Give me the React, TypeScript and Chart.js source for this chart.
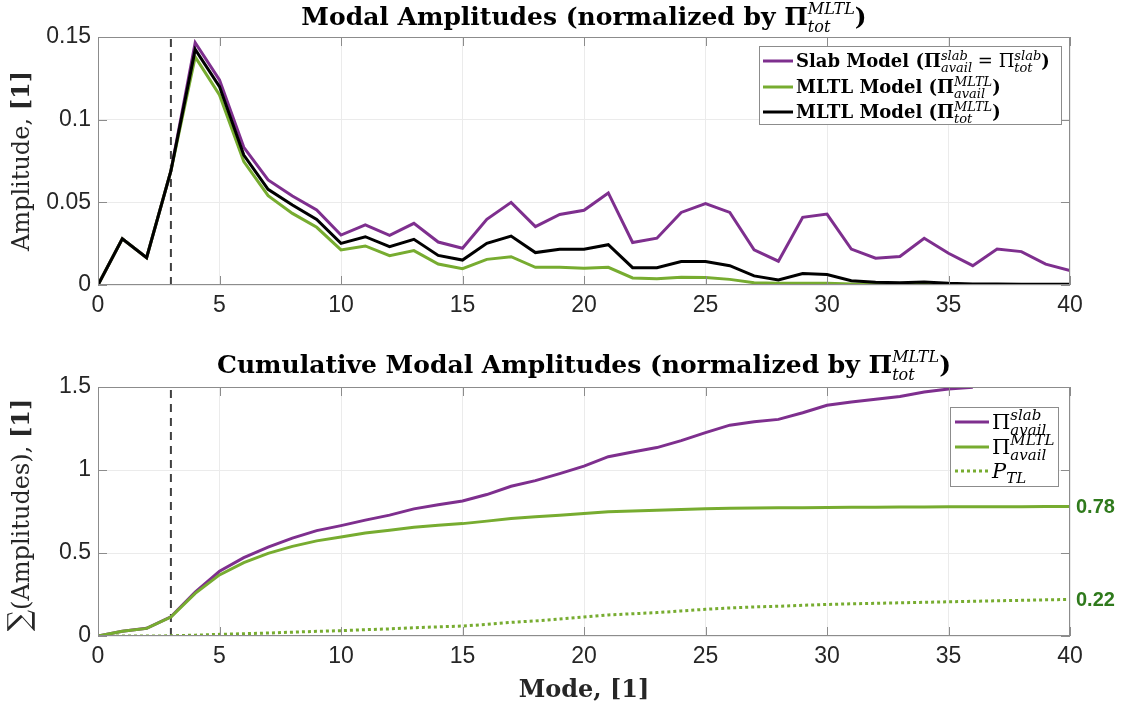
import React, { useEffect, useRef } from "react";
import { Chart, registerables } from "chart.js";

Chart.register(...registerables);

// ---- data -----------------------------------------------------------------
const modes = [
  0, 1, 2, 3, 4, 5, 6, 7, 8, 9, 10, 11, 12, 13, 14, 15, 16, 17, 18, 19, 20,
  21, 22, 23, 24, 25, 26, 27, 28, 29, 30, 31, 32, 33, 34, 35, 36, 37, 38, 39, 40,
];

// modal amplitudes, normalized by total MLTL power
const slabAmp = [
  0, 0.028, 0.0165, 0.069, 0.1466, 0.124, 0.0833, 0.0635, 0.0538, 0.0454,
  0.0302, 0.0363, 0.03, 0.0373, 0.026, 0.0222, 0.0397, 0.05, 0.0353, 0.0427,
  0.0452, 0.0557, 0.0257, 0.0283, 0.0439, 0.0492, 0.0439, 0.0213, 0.0144,
  0.0409, 0.0429, 0.0217, 0.0162, 0.0172, 0.0283, 0.0192, 0.0117, 0.0217,
  0.0202, 0.0126, 0.0087,
];
const mltlAvailAmp = [
  0, 0.028, 0.0165, 0.069, 0.138, 0.115, 0.0746, 0.054, 0.0433, 0.0349,
  0.0212, 0.0236, 0.0177, 0.0208, 0.0127, 0.0099, 0.0155, 0.0171, 0.0107,
  0.0107, 0.0101, 0.0107, 0.0043, 0.0038, 0.0047, 0.0045, 0.0034, 0.0014,
  0.001, 0.001, 0.001, 0.0006, 0.0004, 0.0003, 0.0003, 0.0002, 0.0002, 0.0001,
  0.0001, 0.0001, 0.0001,
];
const mltlTotAmp = [
  0, 0.028, 0.0165, 0.069, 0.1425, 0.12, 0.0786, 0.0579, 0.0484, 0.0397,
  0.0252, 0.0292, 0.0232, 0.0276, 0.0179, 0.0151, 0.0252, 0.0296, 0.0196,
  0.0216, 0.0216, 0.0244, 0.0105, 0.0105, 0.0142, 0.0142, 0.0117, 0.0055,
  0.003, 0.0069, 0.0063, 0.0026, 0.0016, 0.0014, 0.0018, 0.001, 0.0006,
  0.0006, 0.0004, 0.0004, 0.0004,
];

// cumulative amplitudes (slab curve leaves the axes after mode 36)
const slabCum = [
  0, 0.029, 0.046, 0.116, 0.265, 0.39, 0.472, 0.536, 0.59, 0.635, 0.665,
  0.698, 0.728, 0.766, 0.791, 0.813, 0.852, 0.902, 0.936, 0.978, 1.023, 1.08,
  1.108, 1.135, 1.177, 1.225, 1.27, 1.29, 1.305, 1.345, 1.39, 1.41, 1.426,
  1.443, 1.47, 1.488, 1.498, null, null, null, null,
];
const mltlAvailCum = [
  0, 0.028, 0.046, 0.114, 0.257, 0.368, 0.442, 0.498, 0.54, 0.573, 0.596,
  0.62, 0.637, 0.655, 0.667, 0.677, 0.692, 0.708, 0.718, 0.728, 0.738, 0.748,
  0.753, 0.757, 0.762, 0.766, 0.769, 0.771, 0.772, 0.773, 0.774, 0.775, 0.776,
  0.777, 0.777, 0.778, 0.778, 0.779, 0.779, 0.78, 0.78,
];
const lossCum = [
  0, 0, 0, 0.001, 0.005, 0.01, 0.014, 0.018, 0.023, 0.028, 0.032, 0.038,
  0.043, 0.05, 0.055, 0.06, 0.07, 0.082, 0.091, 0.102, 0.114, 0.127, 0.134,
  0.141, 0.151, 0.161, 0.169, 0.175, 0.179, 0.185, 0.19, 0.194, 0.197, 0.2,
  0.203, 0.206, 0.209, 0.212, 0.215, 0.218, 0.22,
];

const modeTicks = [0, 5, 10, 15, 20, 25, 30, 35, 40];
const ampTicks = [0, 0.05, 0.1, 0.15];
const cumTicks = [0, 0.5, 1, 1.5];
const cutoffMode = 3;

// ---- style ----------------------------------------------------------------
const SERIF = "'DejaVu Serif', 'Liberation Serif', serif";
const SANS = "'Liberation Sans', Arial, Helvetica, sans-serif";
const PURPLE = "#7E2F8E";
const GREEN = "#77AC30";
const BLACK = "#000000";
const LABEL_GREEN = "#2F7A1C";
const AXIS_GRAY = "#8c8c8c";
const GRID_GRAY = "#ebebeb";
const TEXT = "#262626";

const W = 1133;
const TOP_H = 350;
const BOT_H = 359;
const PLOT_LEFT = 98;
const PLOT_RIGHT = 1070;

// ---- rich text (sub/superscripts) ----------------------------------------
type Piece =
  | { text: string; font: string }
  | { sup: string; sub: string; font: string; up: number; down: number };

const tx = (text: string, font: string): Piece => ({ text, font });
const ss = (sup: string, sub: string, font: string, up: number, down: number): Piece => ({
  sup,
  sub,
  font,
  up,
  down,
});

function pieceWidth(ctx: CanvasRenderingContext2D, p: Piece) {
  ctx.font = p.font;
  if ("text" in p) return ctx.measureText(p.text).width;
  return Math.max(ctx.measureText(p.sup).width, ctx.measureText(p.sub).width);
}

function richWidth(ctx: CanvasRenderingContext2D, pieces: Piece[]) {
  return pieces.reduce((s, p) => s + pieceWidth(ctx, p), 0);
}

function drawRich(
  ctx: CanvasRenderingContext2D,
  pieces: Piece[],
  x: number,
  y: number,
  align: "left" | "center",
  color: string
) {
  const w = richWidth(ctx, pieces);
  let cx = align === "center" ? x - w / 2 : x;
  ctx.save();
  ctx.textAlign = "left";
  ctx.textBaseline = "alphabetic";
  ctx.fillStyle = color;
  for (const p of pieces) {
    ctx.font = p.font;
    if ("text" in p) {
      ctx.fillText(p.text, cx, y);
    } else {
      ctx.fillText(p.sup, cx, y - p.up);
      ctx.fillText(p.sub, cx, y + p.down);
    }
    cx += pieceWidth(ctx, p);
  }
  ctx.restore();
}

// ---- plugins --------------------------------------------------------------
type Deco = {
  title: Piece[];
  titleY: number;
  yLabel: Piece[];
  yLabelX: number;
  yLabelY: number;
  xLabel?: Piece[];
  xLabelY?: number;
  legend: { color: string; dash?: number[]; label: Piece[] }[];
  legendBox: { x: number; y: number; w: number; h: number; lineX0: number; lineX1: number; textX: number; rows: number[]; shift: number };
  endLabels?: { value: number; color: string }[];
};

const decoPlugin = {
  id: "deco",
  afterDatasetsDraw(chart: any, _args: any, opts: Deco) {
    const ctx: CanvasRenderingContext2D = chart.ctx;
    const area = chart.chartArea;
    const xs = chart.scales.x;
    const ys = chart.scales.y;

    // box with inward ticks on all four sides
    ctx.save();
    ctx.strokeStyle = AXIS_GRAY;
    ctx.lineWidth = 1;
    ctx.strokeRect(area.left + 0.5, area.top + 0.5, area.right - area.left - 1, area.bottom - area.top - 1);
    ctx.beginPath();
    for (const t of xs.ticks) {
      const px = Math.round(xs.getPixelForValue(t.value)) + 0.5;
      ctx.moveTo(px, area.bottom);
      ctx.lineTo(px, area.bottom - 9);
      ctx.moveTo(px, area.top);
      ctx.lineTo(px, area.top + 9);
    }
    for (const t of ys.ticks) {
      const py = Math.round(ys.getPixelForValue(t.value)) + 0.5;
      ctx.moveTo(area.left, py);
      ctx.lineTo(area.left + 9, py);
      ctx.moveTo(area.right, py);
      ctx.lineTo(area.right - 9, py);
    }
    ctx.stroke();
    ctx.restore();

    // title
    drawRich(ctx, opts.title, (area.left + area.right) / 2, opts.titleY, "center", BLACK);

    // y-axis label (rotated)
    ctx.save();
    ctx.translate(opts.yLabelX, opts.yLabelY);
    ctx.rotate(-Math.PI / 2);
    drawRich(ctx, opts.yLabel, 0, 0, "center", TEXT);
    ctx.restore();

    // x-axis label
    if (opts.xLabel && opts.xLabelY) {
      drawRich(ctx, opts.xLabel, (area.left + area.right) / 2, opts.xLabelY, "center", TEXT);
    }

    // legend
    const lb = opts.legendBox;
    ctx.save();
    ctx.fillStyle = "#ffffff";
    ctx.fillRect(lb.x, lb.y, lb.w, lb.h);
    ctx.strokeStyle = AXIS_GRAY;
    ctx.lineWidth = 1;
    ctx.strokeRect(lb.x + 0.5, lb.y + 0.5, lb.w, lb.h);
    opts.legend.forEach((item, i) => {
      const y = lb.rows[i];
      ctx.beginPath();
      ctx.strokeStyle = item.color;
      ctx.lineWidth = 3;
      ctx.setLineDash(item.dash || []);
      ctx.moveTo(lb.lineX0, y);
      ctx.lineTo(lb.lineX1, y);
      ctx.stroke();
      ctx.setLineDash([]);
      drawRich(ctx, item.label, lb.textX, y + lb.shift, "left", BLACK);
    });
    ctx.restore();

    // values written at the right end of the curves
    if (opts.endLabels) {
      ctx.save();
      ctx.font = `bold 20px ${SANS}`;
      ctx.textAlign = "left";
      ctx.textBaseline = "middle";
      for (const e of opts.endLabels) {
        ctx.fillStyle = e.color;
        ctx.fillText(e.value.toFixed(2), area.right + 6, ys.getPixelForValue(e.value) + 1);
      }
      ctx.restore();
    }
  },
};

// ---- chart builders -------------------------------------------------------
const toXY = (vals: (number | null)[]) =>
  modes
    .map((m, i) => ({ x: m, y: vals[i] }))
    .filter((p) => p.y !== null) as { x: number; y: number }[];

function axisOptions(yTicks: number[], yMax: number, canvasH: number, plotBottom: number) {
  return {
    x: {
      type: "linear",
      min: 0,
      max: 40,
      afterBuildTicks: (s: any) => {
        s.ticks = modeTicks.map((v) => ({ value: v }));
      },
      afterFit: (s: any) => {
        s.height = canvasH - plotBottom;
      },
      ticks: {
        color: TEXT,
        font: { family: SANS, size: 23 },
        padding: 7,
        maxRotation: 0,
        callback: (v: number) => String(v),
      },
      grid: { color: GRID_GRAY, drawTicks: false, lineWidth: 1 },
      border: { display: false },
    },
    y: {
      type: "linear",
      min: 0,
      max: yMax,
      afterBuildTicks: (s: any) => {
        s.ticks = yTicks.map((v) => ({ value: v }));
      },
      afterFit: (s: any) => {
        s.width = PLOT_LEFT;
      },
      ticks: {
        color: TEXT,
        font: { family: SANS, size: 23 },
        padding: 7,
        callback: (v: number) => String(v),
      },
      grid: { color: GRID_GRAY, drawTicks: false, lineWidth: 1 },
      border: { display: false },
    },
  };
}

function baseOptions(scales: any, deco: Deco) {
  return {
    responsive: false,
    maintainAspectRatio: false,
    animation: false,
    devicePixelRatio: 1,
    events: [],
    layout: { padding: { top: 37, right: W - PLOT_RIGHT, left: 0, bottom: 0 } },
    elements: { point: { radius: 0 }, line: { tension: 0 } },
    plugins: { legend: { display: false }, tooltip: { enabled: false }, deco },
    scales,
  };
}

const cutoffLine = (yMax: number) => ({
  data: [
    { x: cutoffMode, y: 0 },
    { x: cutoffMode, y: yMax },
  ],
  borderColor: "#404040",
  borderWidth: 2,
  borderDash: [8, 6],
  order: 5,
});

function topConfig(): any {
  const T_B = `bold 25px ${SERIF}`;
  const T_S = `italic 16px ${SERIF}`;
  const L_B = `bold 18px ${SERIF}`;
  const L_R = `18px ${SERIF}`;
  const L_S = `italic 13px ${SERIF}`;
  const deco: Deco = {
    title: [tx("Modal Amplitudes (normalized by Π", T_B), ss("MLTL", "tot", T_S, 11, 7), tx(")", T_B)],
    titleY: 25,
    yLabel: [tx("Amplitude, ", `24px ${SERIF}`), tx("[1]", `bold 24px ${SERIF}`)],
    yLabelX: 29,
    yLabelY: 161,
    legend: [
      {
        color: PURPLE,
        label: [
          tx("Slab Model (Π", L_B),
          ss("slab", "avail", L_S, 7, 5),
          tx(" = Π", L_R),
          ss("slab", "tot", L_S, 7, 5),
          tx(")", L_B),
        ],
      },
      { color: GREEN, label: [tx("MLTL Model (Π", L_B), ss("MLTL", "avail", L_S, 7, 5), tx(")", L_B)] },
      { color: BLACK, label: [tx("MLTL Model (Π", L_B), ss("MLTL", "tot", L_S, 7, 5), tx(")", L_B)] },
    ],
    legendBox: { x: 759, y: 46, w: 302, h: 78, lineX0: 763, lineX1: 793, textX: 796, rows: [61, 87, 112], shift: 6 },
  };
  return {
    type: "line",
    data: {
      datasets: [
        { data: toXY(mltlTotAmp), borderColor: BLACK, borderWidth: 3, order: 0 },
        { data: toXY(mltlAvailAmp), borderColor: GREEN, borderWidth: 3, order: 1 },
        { data: toXY(slabAmp), borderColor: PURPLE, borderWidth: 3, order: 2 },
        cutoffLine(0.15),
      ],
    },
    options: baseOptions(axisOptions(ampTicks, 0.15, TOP_H, 285), deco),
    plugins: [decoPlugin],
  };
}

function bottomConfig(): any {
  const T_B = `bold 25px ${SERIF}`;
  const T_S = `italic 16px ${SERIF}`;
  const L_R = `21px ${SERIF}`;
  const L_I = `italic 21px ${SERIF}`;
  const L_S = `italic 15px ${SERIF}`;
  const lastAvail = mltlAvailCum[mltlAvailCum.length - 1];
  const lastLoss = lossCum[lossCum.length - 1];
  const deco: Deco = {
    title: [
      tx("Cumulative Modal Amplitudes (normalized by Π", T_B),
      ss("MLTL", "tot", T_S, 11, 7),
      tx(")", T_B),
    ],
    titleY: 23,
    yLabel: [
      tx("∑", `30px ${SERIF}`),
      tx("(Amplitudes), ", `24px ${SERIF}`),
      tx("[1]", `bold 24px ${SERIF}`),
    ],
    yLabelX: 29,
    yLabelY: 165,
    xLabel: [tx("Mode, [1]", `bold 24px ${SERIF}`)],
    xLabelY: 347,
    legend: [
      { color: PURPLE, label: [tx("Π", L_R), ss("slab", "avail", L_S, 9, 6)] },
      { color: GREEN, label: [tx("Π", L_R), ss("MLTL", "avail", L_S, 9, 6)] },
      { color: GREEN, dash: [3, 3], label: [tx("P", L_I), ss("", "TL", L_S, 9, 5)] },
    ],
    legendBox: { x: 950, y: 57, w: 108, h: 79, lineX0: 955, lineX1: 989, textX: 992, rows: [72, 97, 121], shift: 7 },
    endLabels: [
      { value: lastAvail, color: LABEL_GREEN },
      { value: lastLoss, color: LABEL_GREEN },
    ],
  };
  return {
    type: "line",
    data: {
      datasets: [
        { data: toXY(mltlAvailCum), borderColor: GREEN, borderWidth: 3, order: 0 },
        { data: toXY(lossCum), borderColor: GREEN, borderWidth: 3, borderDash: [3, 3], order: 1 },
        { data: toXY(slabCum), borderColor: PURPLE, borderWidth: 3, order: 2 },
        cutoffLine(1.5),
      ],
    },
    options: baseOptions(axisOptions(cumTicks, 1.5, BOT_H, 286), deco),
    plugins: [decoPlugin],
  };
}

// ---- components -----------------------------------------------------------
function ChartCanvas({ height, build }: { height: number; build: () => any }) {
  const ref = useRef<HTMLCanvasElement | null>(null);
  useEffect(() => {
    if (!ref.current) return;
    const chart = new Chart(ref.current, build());
    return () => chart.destroy();
  }, [build]);
  return <canvas ref={ref} width={W} height={height} style={{ display: "block", width: W, height }} />;
}

export default function App() {
  useEffect(() => {
    document.body.style.margin = "0";
    document.body.style.background = "#ffffff";
  }, []);
  return (
    <div style={{ position: "absolute", left: 0, top: 0, width: W, height: TOP_H + BOT_H, background: "#fff" }}>
      <ChartCanvas height={TOP_H} build={topConfig} />
      <ChartCanvas height={BOT_H} build={bottomConfig} />
    </div>
  );
}
